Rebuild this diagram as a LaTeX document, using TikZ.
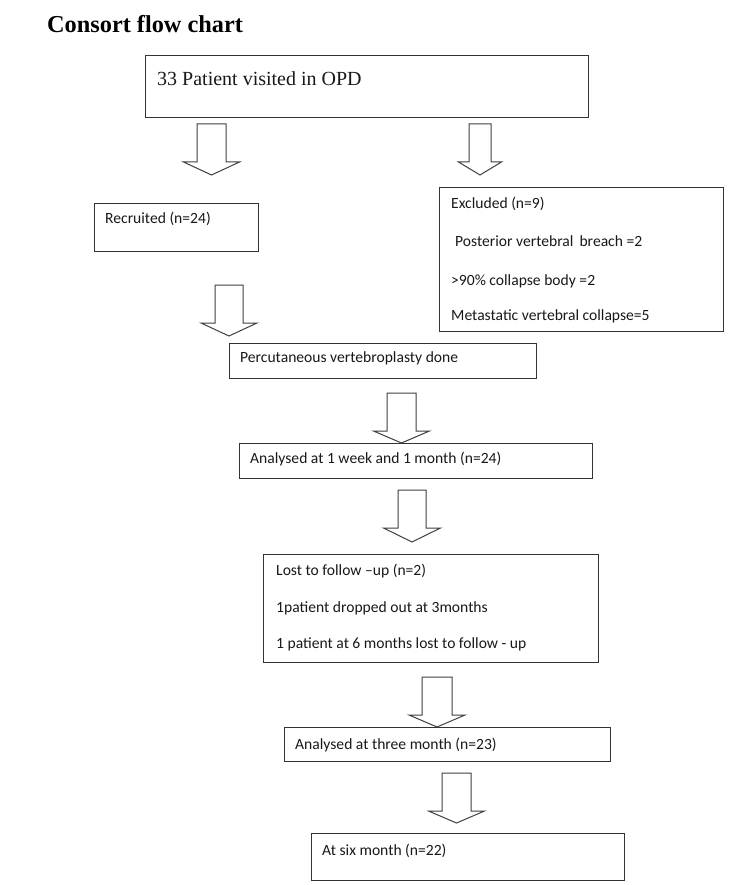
\documentclass[tikz,border=0pt]{standalone}
\usepackage{fontspec}
\setmainfont{Carlito}
\newfontfamily\tnr{Liberation Serif}
\begin{document}
\begin{tikzpicture}[x=1pt,y=-1pt,
  box/.style={draw=black!80, line width=1.3pt, fill=white, rectangle, inner sep=0pt, anchor=north west},
  txt/.style={inner sep=0pt, anchor=base west, font=\fontsize{15.6}{19}\selectfont, text=black!90},
  arr/.style={draw=black!75, line width=1pt, fill=white, line join=miter}]
\newcommand\blockarr[6]{\draw[arr] ({#1-#5},#2) -- ({#1+#5},#2) -- ({#1+#5},#3) -- ({#1+#6},#3) -- (#1,#4) -- ({#1-#6},#3) -- ({#1-#5},#3) -- cycle;}
\fill[white] (0,0) rectangle (750,885);
\useasboundingbox (0,0) rectangle (750,885);

% title
\node[inner sep=0pt, anchor=base west, font=\tnr\bfseries\fontsize{24.3}{28}\selectfont] (title) at (47,33) {Consort flow chart};

% boxes
\node[box, minimum width=443pt, minimum height=62pt] (opd) at (145,55) {};
\node[box, minimum width=164pt, minimum height=48pt] (rec) at (94,203) {};
\node[box, minimum width=284pt, minimum height=144pt] (exc) at (439,187) {};
\node[box, minimum width=307pt, minimum height=35pt] (perc) at (229,343) {};
\node[box, minimum width=353pt, minimum height=35pt] (an1) at (239,443) {};
\node[box, minimum width=335pt, minimum height=108pt] (lost) at (263,554) {};
\node[box, minimum width=326pt, minimum height=34pt] (an3) at (284,727) {};
\node[box, minimum width=313pt, minimum height=47pt] (six) at (311,833) {};

% texts
\node[txt, font=\tnr\fontsize{20}{24}\selectfont] (opdT) at (157,86) {33 Patient visited in OPD};
\node[txt] (recT) at (105,224) {Recruited (n=24)};
\node[txt] (excT1) at (451,209) {Excluded (n=9)};
\node[txt] (excT2) at (455,247) {Posterior vertebral\, breach =2};
\node[txt] (excT3) at (451,285) {>90\% collapse body =2};
\node[txt] (excT4) at (451,320) {Metastatic vertebral collapse=5};
\node[txt] (percT) at (240,362) {Percutaneous vertebroplasty done};
\node[txt] (an1T) at (250,463) {Analysed at 1 week and 1 month (n=24)};
\node[txt] (lostT1) at (276,575) {Lost to follow --up (n=2)};
\node[txt] (lostT2) at (276,612) {1patient dropped out at 3months};
\node[txt] (lostT3) at (276,648) {1 patient at 6 months lost to follow - up};
\node[txt] (an3T) at (295,749) {Analysed at three month (n=23)};
\node[txt] (sixT) at (322,855) {At six month (n=22)};

% block arrows
\blockarr{211.5}{124}{162}{175}{14.5}{28}
\blockarr{480}{124}{162}{175}{11}{21.5}
\blockarr{229}{285}{323}{336}{14}{28}
\blockarr{401.5}{393}{431}{443}{14.5}{28}
\blockarr{412}{490}{528}{542}{14}{28.5}
\blockarr{437}{677}{715}{727}{15}{28}
\blockarr{456.5}{773}{811}{823}{14.5}{28}
\end{tikzpicture}
\end{document}
